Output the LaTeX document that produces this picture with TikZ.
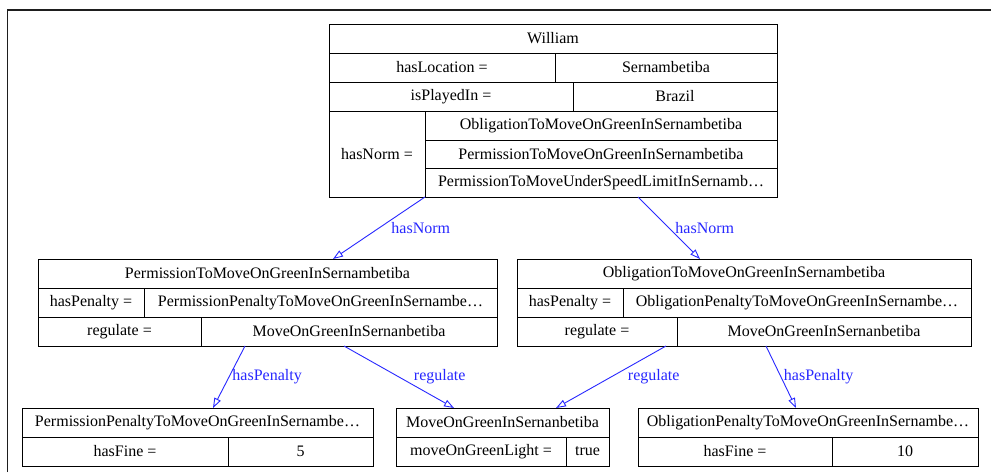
\documentclass[tikz,border=0pt]{standalone}
\usepackage{fontspec}
\setmainfont{Liberation Serif}
\usetikzlibrary{arrows.meta}

\definecolor{edgeblue}{RGB}{40,40,255}
\definecolor{framegray}{RGB}{30,30,30}
\newcommand{\recfont}{\fontsize{16}{19}\selectfont}

\tikzset{
  cell/.style={draw=black, line width=0.9pt, inner sep=0pt, outer sep=0pt, font=\recfont},
  edge/.style={draw=edgeblue, line width=0.9pt, -{Triangle[open, length=10pt, width=7pt]}},
  lbl/.style={text=edgeblue, inner sep=0pt, anchor=west, font=\recfont},
}

% one record field: name, x1, y1, x2, y2, text
\newcommand{\field}[6]{%
  \node[cell, minimum width={#4-#2}, minimum height={#5-#3}] (#1)
    at ({(#2+#4)/2},{(#3+#5)/2}) {#6};}

\begin{document}
\begin{tikzpicture}[x=1pt, y=-1pt]
\useasboundingbox (0,0) rectangle (991,472);
\fill[white] (0,0) rectangle (991,472);

% window frame
\draw[framegray, line width=1.5pt] (7.5,472) -- (7.5,10) -- (991,10);

% William
\field{wTitle}{329}{24}{777}{53}{William}
\field{wLocK}{329}{53}{555}{82}{hasLocation =}
\field{wLocV}{555}{53}{777}{82}{Sernambetiba}
\field{wPlayK}{329}{82}{573}{111}{isPlayedIn =}
\field{wPlayV}{573}{82}{777}{111}{Brazil}
\field{wNormK}{329}{111}{425}{197}{hasNorm =}
\field{wNormA}{425}{111}{777}{140}{ObligationToMoveOnGreenInSernambetiba}
\field{wNormB}{425}{140}{777}{168.5}{PermissionToMoveOnGreenInSernambetiba}
\field{wNormC}{425}{168.5}{777}{197}{PermissionToMoveUnderSpeedLimitInSernamb…}

% PermissionToMoveOnGreenInSernambetiba
\field{pTitle}{38}{259}{497}{288}{PermissionToMoveOnGreenInSernambetiba}
\field{pPenK}{38}{288}{144}{317}{hasPenalty =}
\field{pPenV}{144}{288}{497}{317}{PermissionPenaltyToMoveOnGreenInSernambe…}
\field{pRegK}{38}{317}{201}{346}{regulate =}
\field{pRegV}{201}{317}{497}{346}{MoveOnGreenInSernanbetiba}

% ObligationToMoveOnGreenInSernambetiba
\field{oTitle}{517}{259}{971}{288}{ObligationToMoveOnGreenInSernambetiba}
\field{oPenK}{517}{288}{623}{317}{hasPenalty =}
\field{oPenV}{623}{288}{971}{317}{ObligationPenaltyToMoveOnGreenInSernambe…}
\field{oRegK}{517}{317}{677}{346}{regulate =}
\field{oRegV}{677}{317}{971}{346}{MoveOnGreenInSernanbetiba}

% PermissionPenalty
\field{ppTitle}{22}{408}{373}{437}{PermissionPenaltyToMoveOnGreenInSernambe…}
\field{ppFineK}{22}{437}{228}{466}{hasFine =}
\field{ppFineV}{228}{437}{373}{466}{5}

% MoveOnGreen
\field{mTitle}{396}{408}{609}{437}{MoveOnGreenInSernanbetiba}
\field{mLightK}{396}{437}{566}{466}{moveOnGreenLight =}
\field{mLightV}{566}{437}{609}{466}{true}

% ObligationPenalty
\field{opTitle}{638}{408}{978}{437}{ObligationPenaltyToMoveOnGreenInSernambe…}
\field{opFineK}{638}{437}{832}{466}{hasFine =}
\field{opFineV}{832}{437}{978}{466}{10}

% connectors
\draw[edge] (wNormK.south east) --
  node[lbl, xshift=12pt] (l1) {hasNorm} ([xshift=65.5pt]pTitle.north);
\draw[edge] ([xshift=37pt]wNormC.south) --
  node[lbl, xshift=6pt] (l2) {hasNorm} ([xshift=-44pt]oTitle.north);
\draw[edge] ([xshift=44pt]pRegV.south west) --
  node[lbl, xshift=3pt] (l3) {hasPenalty} ([xshift=15.5pt]ppTitle.north);
\draw[edge] ([xshift=-5pt]pRegV.south) --
  node[lbl, xshift=14.5pt] (l4) {regulate} ([xshift=-48.5pt]mTitle.north);
\draw[edge] ([xshift=-11pt]oRegV.south west) --
  node[lbl, xshift=16.5pt] (l5) {regulate} ([xshift=53.5pt]mTitle.north);
\draw[edge] ([xshift=-58pt]oRegV.south) --
  node[lbl, xshift=2.5pt] (l6) {hasPenalty} ([xshift=-12pt]opTitle.north);
\end{tikzpicture}
\end{document}
